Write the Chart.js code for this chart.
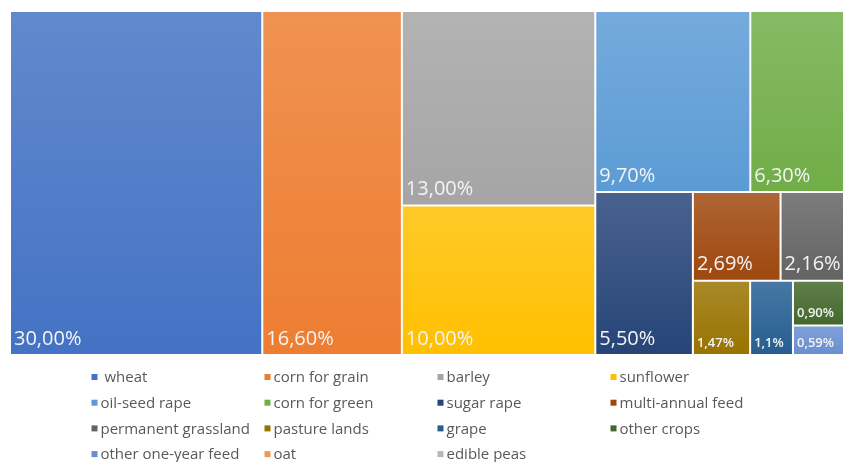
<!DOCTYPE html>
<html>
<head>
<meta charset="utf-8">
<script src="https://cdn.jsdelivr.net/npm/chart.js@4.4.1/dist/chart.umd.min.js"></script>
<style>
html, body { margin: 0; padding: 0; background: #ffffff; overflow: hidden; width: 843px; height: 462px; }
#wrap { position: absolute; left: 0; top: 0; width: 851px; height: 462px; }
canvas { display: block; }
</style>
</head>
<body>
<div id="wrap"><canvas id="c" width="851" height="462"></canvas></div>
<script>
// ---------------- data ----------------
const categories = [' wheat', 'corn for grain', 'barley', 'sunflower', 'oil-seed rape', 'corn for green',
  'sugar rape', 'multi-annual feed', 'permanent grassland', 'pasture lands', 'grape', 'other crops',
  'other one-year feed', 'oat', 'edible peas'];
const shares = [30, 16.6, 13, 10, 9.7, 6.3, 5.5, 2.69, 2.16, 1.47, 1.1, 0.9, 0.59, 0, 0];
const valueLabels = ['30,00%', '16,60%', '13,00%', '10,00%', '9,70%', '6,30%', '5,50%', '2,69%', '2,16%',
  '1,47%', '1,1%', '0,90%', '0,59%', '', ''];
const colors = ['#4472C4', '#ED7D31', '#A5A5A5', '#FFC000', '#5B9BD5', '#70AD47', '#264478', '#9E480E',
  '#636363', '#997300', '#255E91', '#43682B', '#698ED0', '#F1975A', '#B7B7B7'];

// ---------------- helpers ----------------
function tint(hex, t) {
  const n = parseInt(hex.slice(1), 16);
  const r = (n >> 16) & 255, g = (n >> 8) & 255, b = n & 255;
  const m = c => Math.round(c + (255 - c) * t);
  return 'rgb(' + m(r) + ',' + m(g) + ',' + m(b) + ')';
}

// squarified layout in value space (0..100 x 0..100); aspect judged in pixel space
function layoutCells(values, kx, ky, bias) {
  const total = values.reduce((s, v) => s + Math.max(0, v), 0);
  const rects = values.map(() => ({ x0: 0, y0: 0, x1: 0, y1: 0 }));
  let items = values.map((v, i) => ({ i, a: Math.max(0, v) / total * 10000 })).filter(d => d.a > 0);
  let x = 0, y = 0, w = 100, h = 100;
  const worst = (row, strip) => {
    const S = row.reduce((s, d) => s + d.a, 0);
    let m = 0;
    for (const d of row) {
      let wp, hp;
      if (strip) { const t = S / h; wp = t * kx * bias; hp = (d.a / t) * ky; }
      else { const t = S / w; wp = (d.a / t) * kx * bias; hp = t * ky; }
      m = Math.max(m, wp / hp, hp / wp);
    }
    return m;
  };
  while (items.length) {
    const strip = w * kx >= h * ky;
    let n = 1;
    while (n < items.length && worst(items.slice(0, n + 1), strip) <= worst(items.slice(0, n), strip)) n++;
    const row = items.slice(0, n);
    const S = row.reduce((s, d) => s + d.a, 0);
    if (strip) {
      const t = S / h; let cy = y;
      for (const d of row) { const hh = d.a / t; rects[d.i] = { x0: x, x1: x + t, y0: cy, y1: cy + hh }; cy += hh; }
      x += t; w -= t;
    } else {
      const t = S / w; let cx = x;
      for (const d of row) { const ww = d.a / t; rects[d.i] = { x0: cx, x1: cx + ww, y0: y, y1: y + t }; cx += ww; }
      y += t; h -= t;
    }
    items = items.slice(n);
  }
  return rects;
}

// ---------------- custom treemap controller ----------------
class TreemapLiteController extends Chart.DatasetController {
  parse(start, count) {
    const meta = this._cachedMeta;
    const data = this.getDataset().data;
    for (let i = start; i < start + count; ++i) {
      meta._parsed[i] = { x: i, y: Number(data[i]) || 0 };
    }
  }
  getMinMax(scale) {
    return { min: 0, max: 100 };
  }
  getLabelAndValue(index) {
    return { label: this.chart.data.labels[index], value: String(this.getDataset().data[index]) };
  }
  update(mode) {
    const meta = this._cachedMeta;
    this.updateElements(meta.data, 0, meta.data.length, mode);
  }
  updateElements(elements, start, count, mode) {
    const meta = this._cachedMeta;
    const xs = meta.xScale, ys = meta.yScale;
    const ds = this.getDataset();
    let kx = Math.abs(xs.getPixelForValue(1) - xs.getPixelForValue(0));
    let ky = Math.abs(ys.getPixelForValue(1) - ys.getPixelForValue(0));
    if (!isFinite(kx) || kx === 0) kx = 1;
    if (!isFinite(ky) || ky === 0) ky = 1;
    const rects = layoutCells(ds.data, kx, ky, ds.squareBias || 1);
    const ctx = this.chart.ctx;
    for (let i = start; i < start + count; i++) {
      const r = rects[i];
      let left = xs.getPixelForValue(r.x0), right = xs.getPixelForValue(r.x1);
      let top = ys.getPixelForValue(r.y0), bottom = ys.getPixelForValue(r.y1);
      if (![left, right, top, bottom].every(isFinite)) { left = right = top = bottom = 0; }
      const base = ds.backgroundColor[i];
      let fill = base;
      if (bottom > top) {
        fill = ctx.createLinearGradient(0, top, 0, bottom);
        fill.addColorStop(0, tint(base, 0.16));
        fill.addColorStop(1, base);
      }
      const props = {
        x: (left + right) / 2,
        y: top,
        base: bottom,
        width: right - left,
        height: bottom - top,
        horizontal: false,
        borderSkipped: {},
        inflateAmount: 0,
        enableBorderRadius: false,
        options: {
          backgroundColor: fill,
          borderColor: '#ffffff',
          borderWidth: (right - left) > 0 ? 1 : 0,
          borderRadius: 0,
          borderSkipped: false,
          inflateAmount: 0
        }
      };
      this.updateElement(elements[i], i, props, mode);
    }
  }
  draw() {
    const ctx = this.chart.ctx;
    for (const el of this._cachedMeta.data) {
      if (el.width > 0 && el.base > el.y) el.draw(ctx);
    }
  }
}
TreemapLiteController.id = 'treemapLite';
TreemapLiteController.defaults = { datasetElementType: false, dataElementType: 'bar' };
TreemapLiteController.overrides = { scales: { x: { type: 'linear' }, y: { type: 'linear' } } };
Chart.register(TreemapLiteController);

// ---------------- cell value labels ----------------
const cellLabels = {
  id: 'cellLabels',
  afterDatasetsDraw(chart, args, opts) {
    const meta = chart.getDatasetMeta(0);
    const texts = chart.data.datasets[0].valueLabels;
    const ctx = chart.ctx;
    ctx.save();
    ctx.textBaseline = 'middle';
    ctx.textAlign = 'left';
    ctx.fillStyle = opts.color;
    meta.data.forEach((el, i) => {
      const txt = texts[i];
      if (!txt || !(el.width > 0)) return;
      const left = el.x - el.width / 2, bottom = el.base, h = el.base - el.y;
      ctx.font = opts.bigFont;
      const big = ctx.measureText(txt).width + 6 <= el.width && h >= 40;
      if (!big) ctx.font = opts.smallFont;
      ctx.fillText(txt, left + 4, bottom - (big ? 16 : 12));
    });
    ctx.restore();
  }
};

// ---------------- grid legend ----------------
const gridLegend = {
  id: 'gridLegend',
  afterDraw(chart, args, opts) {
    const ctx = chart.ctx;
    const ds = chart.data.datasets[0];
    ctx.save();
    ctx.font = opts.font;
    ctx.textBaseline = 'middle';
    ctx.textAlign = 'left';
    chart.data.labels.forEach((name, i) => {
      const col = i % opts.columns, row = Math.floor(i / opts.columns);
      const x = opts.left + col * opts.colWidth;
      const y = opts.top + row * opts.rowHeight;
      ctx.fillStyle = ds.backgroundColor[i];
      ctx.fillRect(x, y - 3, 6, 6);
      ctx.fillStyle = opts.color;
      ctx.fillText(name, x + 9, y + 1);
    });
    ctx.restore();
  }
};

new Chart(document.getElementById('c'), {
  type: 'treemapLite',
  data: {
    labels: categories,
    datasets: [{
      data: shares,
      backgroundColor: colors,
      valueLabels: valueLabels,
      squareBias: 1.38
    }]
  },
  options: {
    responsive: false,
    animation: false,
    events: [],
    layout: { padding: { left: 10, top: 11, right: 0, bottom: 107 } },
    scales: {
      x: { type: 'linear', display: false, min: 0, max: 100 },
      y: { type: 'linear', display: false, min: 0, max: 100, reverse: true }
    },
    plugins: {
      legend: { display: false },
      tooltip: { enabled: false },
      cellLabels: { color: '#f4f4f4', bigFont: '20px "Open Sans"', smallFont: '600 13px "Open Sans"' },
      gridLegend: { font: '15px "Open Sans"', color: '#595959', columns: 4, left: 91.5, colWidth: 173, top: 377, rowHeight: 25.7 }
    }
  },
  plugins: [cellLabels, gridLegend]
});
</script>
</body>
</html>
